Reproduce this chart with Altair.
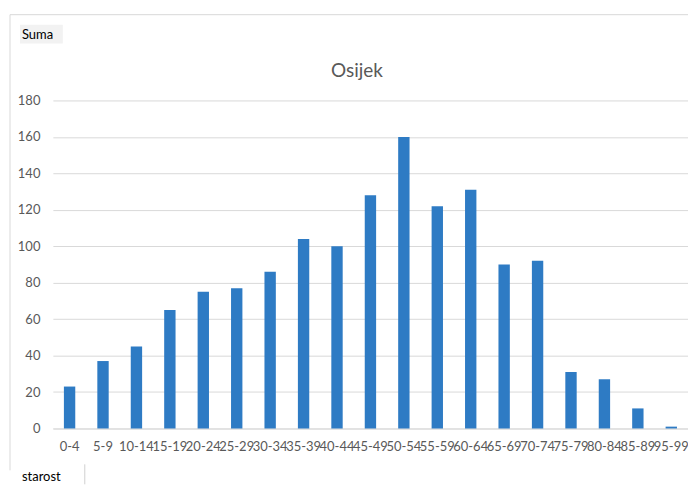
import altair as alt
import pandas as pd

categories = ["0-4", "5-9", "10-14", "15-19", "20-24", "25-29", "30-34", "35-39",
              "40-44", "45-49", "50-54", "55-59", "60-64", "65-69", "70-74",
              "75-79", "80-84", "85-89", "95-99"]
values = [23, 37, 45, 65, 75, 77, 86, 104, 100, 128, 160, 122, 131, 90, 92, 31, 27, 11, 1]
y_ticks = [0, 20, 40, 60, 80, 100, 120, 140, 160, 180]

df = pd.DataFrame({"starost": categories, "Suma": values})

FONT = "Lato"
GRAY = "#595959"

W, H = 637, 329

bars = alt.Chart(df).mark_bar(color="#2E7BC4").encode(
    x=alt.X("starost:N", sort=categories,
            scale=alt.Scale(paddingInner=0.66, paddingOuter=0.33),
            axis=alt.Axis(title=None, labelAngle=0, labelOverlap=False, ticks=False,
                          domainColor="#d9d9d9", labelColor=GRAY, labelFont=FONT,
                          labelFontSize=13, labelPadding=12)),
    y=alt.Y("Suma:Q", scale=alt.Scale(domain=[0, 180], nice=False),
            axis=alt.Axis(title=None, values=y_ticks, domain=False, ticks=False,
                          gridColor="#d9d9d9", labelColor=GRAY, labelFont=FONT,
                          labelFontSize=13, labelPadding=13)),
)

one = alt.datum.starost == "0-4"

frame_top = alt.Chart(df).mark_rule(color="#d9d9d9", strokeWidth=1).encode(
    x=alt.value(-43), x2=alt.value(W + 20), y=alt.value(-86)
).transform_filter(one)

frame_left = alt.Chart(df).mark_rule(color="#d9d9d9", strokeWidth=1).encode(
    x=alt.value(-43), y=alt.value(-86), y2=alt.value(H + 42)
).transform_filter(one)

title = alt.Chart(df).mark_text(text="Osijek", font=FONT, fontSize=19, color=GRAY,
                                baseline="middle", align="center").encode(
    x=alt.value(305), y=alt.value(-30)
).transform_filter(one)

suma_box = alt.Chart(df).mark_rect(fill="#f2f2f2").encode(
    x=alt.value(-33), x2=alt.value(10), y=alt.value(-76), y2=alt.value(-57)
).transform_filter(one)

suma_text = alt.Chart(df).mark_text(text="Suma", font=FONT, fontSize=13, color="#000000",
                                    align="left", baseline="middle").encode(
    x=alt.value(-31), y=alt.value(-66)
).transform_filter(one)

starost_right = alt.Chart(df).mark_rule(color="#d0d0d0", strokeWidth=1).encode(
    x=alt.value(32), y=alt.value(H + 36), y2=alt.value(H + 56)
).transform_filter(one)

starost_text = alt.Chart(df).mark_text(text="starost", font=FONT, fontSize=13, color="#000000",
                                       align="left", baseline="middle").encode(
    x=alt.value(-31), y=alt.value(H + 49)
).transform_filter(one)

chart = alt.layer(frame_top, frame_left, bars, title, suma_box, suma_text,
                  starost_right, starost_text).properties(
    width=W, height=H,
    autosize=alt.AutoSizeParams(type="none"),
    padding={"left": 45, "top": 92, "right": 0, "bottom": 56},
).configure_view(stroke=None)

chart.save("out.html", embed_options={"renderer": "svg", "actions": False})
